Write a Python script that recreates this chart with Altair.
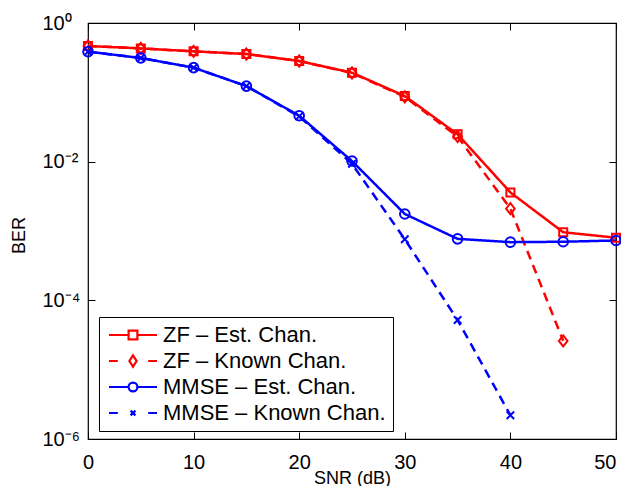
import altair as alt
import pandas as pd

# ---- data ----
snr = [0, 5, 10, 15, 20, 25, 30, 35, 40, 45, 50]
zf_est = [0.466, 0.43, 0.39, 0.357, 0.283, 0.192, 0.0885, 0.0248, 0.0036, 9.6e-4, 8.0e-4]
zf_known = [0.466, 0.43, 0.39, 0.357, 0.283, 0.19, 0.086, 0.023, 0.0021, 2.6e-5, None]
mmse_est = [0.386, 0.313, 0.227, 0.123, 0.046, 0.0102, 0.00176, 7.7e-4, 6.9e-4, 7.0e-4, 7.3e-4]
mmse_known = [0.386, 0.313, 0.227, 0.123, 0.045, 0.0093, 7.6e-4, 5.2e-5, 2.2e-6, None, None]

series_names = ["ZF – Est. Chan.", "ZF – Known Chan.", "MMSE – Est. Chan.", "MMSE – Known Chan."]
series_colors = ["#ff0000", "#ff0000", "#0000ff", "#0000ff"]
series_dash = [[1, 0], [9, 6], [1, 0], [9, 6]]

x_ticks = [0, 10, 20, 30, 40, 50]
y_ticks = [1, 1e-2, 1e-4, 1e-6]
y_tick_labels = ["10⁰", "10⁻²", "10⁻⁴", "10⁻⁶"]

# marker symbols (unit square [-1,1])
marker_paths = [
    "M-0.67,-0.67H0.67V0.67H-0.67Z",
    "M0,-0.92L0.72,0L0,0.92L-0.72,0Z",
    "M0.8,0A0.8,0.8 0 1,1 -0.8,0A0.8,0.8 0 1,1 0.8,0Z",
    "M-0.62,-0.62L0.62,0.62M-0.62,0.62L0.62,-0.62",
]
# legend symbols: line segment + marker (unit = 8 px)
legend_paths = [
    "M-1,0H1.45M2.55,0H5M1.45,-0.55H2.55V0.55H1.45Z",
    "M-1,0H0.1M3.9,0H5M2,-0.7L2.45,0L2,0.7L1.55,0Z",
    "M-1,0H1.45M2.55,0H5M2.55,0A0.55,0.55 0 1,1 1.45,0A0.55,0.55 0 1,1 2.55,0Z",
    "M-1,0H0.1M3.9,0H5M1.7,-0.3L2.3,0.3M1.7,0.3L2.3,-0.3",
]

rows = []
for name, vals in zip(series_names, [zf_est, zf_known, mmse_est, mmse_known]):
    for s, v in zip(snr, vals):
        if v is not None:
            rows.append({"snr": s, "ber": v, "series": name})
df = pd.DataFrame(rows)

label_expr = ""
for t, lab in zip(y_ticks[:-1], y_tick_labels[:-1]):
    label_expr += f"datum.value > {t * 0.5} ? '{lab}' : "
label_expr += f"'{y_tick_labels[-1]}'"

W, H = 528, 416
xs = alt.Scale(domain=[0, 50], nice=False, zero=False)
ys = alt.Scale(type="log", domain=[1e-6, 1], nice=False)
color_scale = alt.Scale(domain=series_names, range=series_colors)


def tick_axis(orient, values, offset):
    return alt.Axis(orient=orient, values=values, offset=offset, tickSize=7, labels=False,
                    title=None, domain=False, grid=False)


lines = alt.Chart(df).mark_line(strokeWidth=2.5).encode(
    x=alt.X("snr:Q", scale=xs, axis=alt.Axis(
        orient="bottom", values=x_ticks, ticks=False, labelPadding=13,
        labelAlign={"condition": {"test": f"datum.value >= {x_ticks[-1]}", "value": "right"},
                    "value": "center"},
        labelFontSize=20, labelFlush=False, labelOverlap=False, domain=False, grid=False,
        title="SNR (dB)", titleFontSize=18, titleX=W / 2, titleY=44,
        titleBaseline="alphabetic")),
    y=alt.Y("ber:Q", scale=ys, axis=alt.Axis(
        orient="left", values=y_ticks, labelExpr=label_expr, ticks=False, labelPadding=46,
        labelAlign="left", labelBaseline="middle", labelFontSize=20, labelFlush=False,
        labelOverlap=False, domain=False, grid=False,
        title="BER", titleFontSize=18, titleAngle=-90, titleX=-64, titleY=212,
        titleBaseline="alphabetic", titleAlign="center")),
    color=alt.Color("series:N", scale=color_scale, legend=None),
    strokeDash=alt.StrokeDash("series:N", scale=alt.Scale(domain=series_names, range=series_dash), legend=None),
    order=alt.Order("snr:Q"),
)

points = alt.Chart(df).mark_point(filled=False, strokeWidth=2, size=144, opacity=1).encode(
    x=alt.X("snr:Q", scale=xs, axis=tick_axis("top", x_ticks, -H)),
    y=alt.Y("ber:Q", scale=ys, axis=tick_axis("right", y_ticks, -W)),
    color=alt.Color("series:N", scale=color_scale, legend=None),
    shape=alt.Shape("series:N", scale=alt.Scale(domain=series_names, range=marker_paths), legend=None),
)

legend_layer = alt.Chart(df).transform_filter("datum.snr < 0").mark_point(
    filled=False, strokeWidth=2.2, opacity=1).encode(
    x=alt.X("snr:Q", scale=xs, axis=tick_axis("bottom", x_ticks, -H)),
    y=alt.Y("ber:Q", scale=ys, axis=tick_axis("left", y_ticks, -W)),
    color=alt.Color("series:N", scale=color_scale, legend=alt.Legend(title=None)),
    shape=alt.Shape("series:N", scale=alt.Scale(domain=series_names, range=legend_paths),
                    legend=alt.Legend(title=None)),
)

chart = alt.layer(lines, points, legend_layer).resolve_scale(
    color="independent", shape="independent", strokeDash="independent"
).resolve_axis(
    x="independent", y="independent"
).properties(
    width=W, height=H,
    autosize=alt.AutoSizeParams(type="none"),
    padding={"left": 80, "top": 15, "right": 5, "bottom": 47},
).configure(
    font="Liberation Sans",
).configure_view(
    stroke="black", strokeWidth=1.2,
).configure_axis(
    labelFont="Liberation Sans", titleFont="Liberation Sans", labelColor="black",
    titleColor="black", tickColor="black", tickWidth=1, titleFontWeight="normal",
).configure_legend(
    orient="none", legendX=11, legendY=294, padding=7, strokeColor="black",
    fillColor="white", labelFontSize=22, labelFont="Liberation Sans", labelColor="black",
    symbolSize=256, symbolStrokeWidth=2.2, labelOffset=35, rowPadding=4, labelLimit=400,
    cornerRadius=0,
)

chart.save("out.html", embed_options={"renderer": "svg", "actions": False})
